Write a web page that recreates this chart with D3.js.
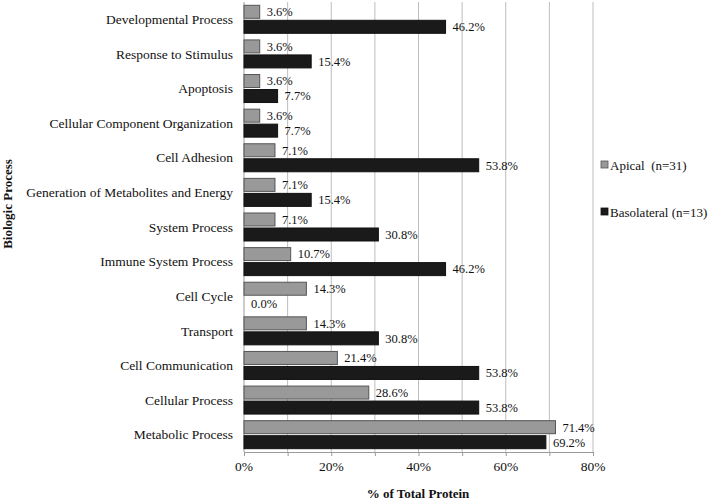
<!DOCTYPE html>
<html>
<head>
<meta charset="utf-8">
<script src="https://cdn.jsdelivr.net/npm/d3@7"></script>
<style>
  html, body { margin: 0; padding: 0; background: #fff; }
  svg { display: block; }
  text { font-family: "Liberation Serif", "Times New Roman", serif; fill: #111; }
</style>
</head>
<body>
<svg id="chart" width="712" height="502"></svg>
<script>
const categories = [
  "Developmental Process",
  "Response to Stimulus",
  "Apoptosis",
  "Cellular Component Organization",
  "Cell Adhesion",
  "Generation of Metabolites and Energy",
  "System Process",
  "Immune System Process",
  "Cell Cycle",
  "Transport",
  "Cell Communication",
  "Cellular Process",
  "Metabolic Process"
];
const apical = [3.6, 3.6, 3.6, 3.6, 7.1, 7.1, 7.1, 10.7, 14.3, 14.3, 21.4, 28.6, 71.4];
const basolateral = [46.2, 15.4, 7.7, 7.7, 53.8, 15.4, 30.8, 46.2, 0.0, 30.8, 53.8, 53.8, 69.2];
const seriesNames = ["Apical  (n=31)", "Basolateral (n=13)"];
const xTicks = [0, 20, 40, 60, 80];
const xGrid = [10, 20, 30, 40, 50, 60, 70, 80];
const xTitle = "% of Total Protein";
const yTitle = "Biologic Process";

(function () {
const svg = d3.select("#chart");
const mLeft = 244, mRight = 593, mTop = 2, mBottom = 452;

const x = d3.scaleLinear().domain([0, 80]).range([mLeft, mRight]);
const y = d3.scaleBand().domain(categories).range([mTop, mBottom]).padding(0);

const bw = y.bandwidth();
const barH = 13, pad = 3.3, gap = 2;
const colors = ["#999999", "#1a1a1a"];
const strokes = ["#555555", "#111111"];

// gridlines
svg.append("g").selectAll("line").data(xGrid).join("line")
  .attr("x1", d => x(d)).attr("x2", d => x(d))
  .attr("y1", mTop).attr("y2", mBottom)
  .attr("stroke", "#bdbdbd").attr("stroke-width", 1);

// y axis line
svg.append("line").attr("x1", x(0)).attr("x2", x(0)).attr("y1", mTop).attr("y2", mBottom)
  .attr("stroke", "#9a9a9a");

// x axis
const xAxis = d3.axisBottom(x).tickValues(d3.range(0, 81, 10)).tickSize(4).tickFormat("");
const gx = svg.append("g").attr("transform", `translate(0,${mBottom})`).call(xAxis);
gx.select(".domain").attr("stroke", "#9a9a9a");
gx.selectAll(".tick line").attr("stroke", "#9a9a9a");

svg.append("g").selectAll("text").data(xTicks).join("text")
  .attr("x", d => x(d)).attr("y", 471)
  .attr("text-anchor", "middle").attr("font-size", 13.5)
  .text(d => d + "%");

// bars
const seriesData = [apical, basolateral];
seriesData.forEach((vals, si) => {
  const g = svg.append("g");
  g.selectAll("rect").data(vals).join("rect")
    .attr("x", x(0))
    .attr("y", (d, i) => y(categories[i]) + pad + si * (barH + gap))
    .attr("width", d => x(d) - x(0))
    .attr("height", barH)
    .attr("fill", colors[si])
    .attr("stroke", d => d > 0 ? strokes[si] : "none")
    .attr("stroke-width", 1);
  g.selectAll("text").data(vals).join("text")
    .attr("x", d => x(d) + 7)
    .attr("y", (d, i) => y(categories[i]) + pad + si * (barH + gap) + barH / 2)
    .attr("dy", "0.35em")
    .attr("font-size", 12.5)
    .text(d => d.toFixed(1) + "%");
});

// category labels
svg.append("g").selectAll("text").data(categories).join("text")
  .attr("x", 233)
  .attr("y", d => y(d) + bw / 2)
  .attr("dy", "0.35em")
  .attr("text-anchor", "end")
  .attr("font-size", 13.5)
  .text(d => d);

// axis titles
svg.append("text").attr("x", 418).attr("y", 498)
  .attr("text-anchor", "middle").attr("font-size", 13).attr("font-weight", "bold")
  .text(xTitle);
svg.append("text")
  .attr("transform", "translate(12,204) rotate(-90)")
  .attr("text-anchor", "middle").attr("font-size", 13).attr("font-weight", "bold")
  .text(yTitle);

// legend
const legY = [165, 212];
seriesNames.forEach((name, i) => {
  svg.append("rect").attr("x", 601).attr("y", legY[i] - 4).attr("width", 7).attr("height", 7)
    .attr("fill", colors[i]).attr("stroke", strokes[i]).attr("stroke-width", 0.8);
  svg.append("text").attr("x", 610).attr("y", legY[i]).attr("dy", "0.35em")
    .attr("font-size", 13).style("white-space", "pre").attr("xml:space", "preserve")
    .text(name);
});
})();
</script>
</body>
</html>
